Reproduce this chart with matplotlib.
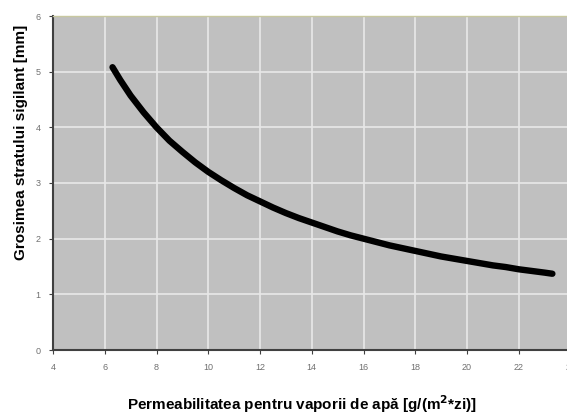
import matplotlib
matplotlib.use("Agg")
import matplotlib.pyplot as plt

# Data
perm_x = [6.3, 6.6, 7, 7.5, 8, 8.5, 9, 9.5, 10, 10.5, 11, 11.5, 12, 12.5, 13, 13.5, 14, 14.5,
          15, 15.5, 16, 16.5, 17, 17.5, 18, 18.5, 19, 19.5, 20, 20.5, 21, 21.5, 22, 22.5, 23, 23.3]
thick_y = [5.08, 4.85, 4.57, 4.27, 4.0, 3.76, 3.56, 3.37, 3.2, 3.05, 2.91, 2.78, 2.67, 2.56,
           2.46, 2.37, 2.29, 2.21, 2.13, 2.06, 2.0, 1.94, 1.88, 1.83, 1.78, 1.73, 1.68, 1.64,
           1.6, 1.56, 1.52, 1.49, 1.45, 1.42, 1.39, 1.37]
x_ticks = [4, 6, 8, 10, 12, 14, 16, 18, 20, 22, 24]
y_ticks = [0, 1, 2, 3, 4, 5, 6]

plt.rcParams['font.family'] = ['Liberation Sans', 'DejaVu Sans']

fig = plt.figure(figsize=(5.67, 4.16), dpi=100)
ax = fig.add_axes([53/567, 66/416, (570.5-53)/567, (350-16)/416])
ax.set_facecolor('#c0c0c0')
ax.set_xlim(4, 24)
ax.set_ylim(0, 6)
ax.set_xticks(x_ticks)
ax.set_yticks(y_ticks)
ax.grid(True, color='#e8e8e8', linewidth=1.2)
ax.set_axisbelow(True)
ax.plot(perm_x, thick_y, color='black', linewidth=4.6, solid_capstyle='round',
        solid_joinstyle='round')

ax.tick_params(axis='both', labelsize=6.5, labelcolor='#707070', color='#404040',
               length=3, width=0.8, direction='out', pad=6)
for s in ['left', 'bottom']:
    ax.spines[s].set_color('#404040')
    ax.spines[s].set_linewidth(1.5)
ax.spines['top'].set_color('#c8c8a0')
ax.spines['top'].set_linewidth(1)
ax.spines['right'].set_visible(False)

fig.text(302/567, 1-404/416, 'Permeabilitatea pentru vaporii de apă [g/(m$^{\\mathbf{2}}$*zi)]',
         ha='center', va='center', fontsize=11, fontweight='bold')
fig.text(21/567, 1-142/416, 'Grosimea stratului sigilant [mm]', rotation=90,
         ha='center', va='center', fontsize=11, fontweight='bold')

fig.savefig('out.png', dpi=100)
